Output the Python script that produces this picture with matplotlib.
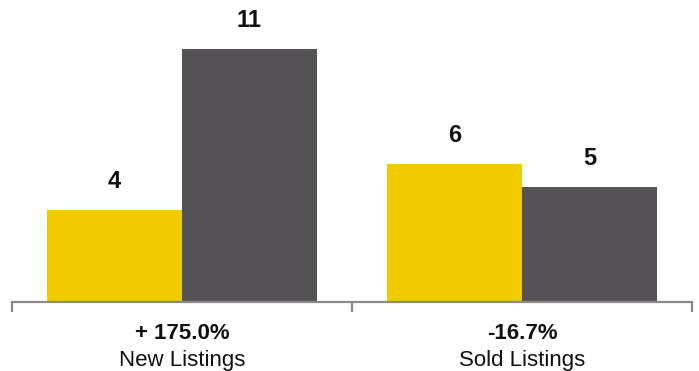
import numpy as np
import matplotlib.pyplot as plt
from matplotlib.transforms import blended_transform_factory

plt.rcParams['font.family'] = ['Liberation Sans', 'DejaVu Sans']

categories = ['New Listings', 'Sold Listings']
changes = ['+ 175.0%', '-16.7%']
prior_year = [4, 6]
current_year = [11, 5]

yellow = '#f0cb00'
dark = '#545255'
axis_gray = '#8a8a8a'

fig = plt.figure(figsize=(6.99, 3.71), dpi=100)
ax = fig.add_axes([12 / 699, 69 / 371, 680 / 699, 292 / 371])

x = np.arange(len(categories))
w = 0.397
b1 = ax.bar(x - w / 2, prior_year, w, color=yellow)
b2 = ax.bar(x + w / 2, current_year, w, color=dark)

for bars in (b1, b2):
    for bar in bars:
        ax.annotate(str(int(bar.get_height())),
                    (bar.get_x() + bar.get_width() / 2, bar.get_height()),
                    xytext=(0, 12), textcoords='offset points',
                    ha='center', va='bottom', fontsize=17, fontweight='bold', color='#111111')

ax.set_xlim(-0.5, 1.5)
ax.set_ylim(0, 292 / 23)

for s in ['top', 'right', 'left']:
    ax.spines[s].set_visible(False)
ax.spines['bottom'].set_color(axis_gray)
ax.spines['bottom'].set_linewidth(1.6)
ax.set_yticks([])
ax.set_xticks([-0.5, 0.5, 1.5])
ax.set_xticklabels([])
ax.tick_params(axis='x', direction='out', length=7, width=1.6, color=axis_gray)

trans = blended_transform_factory(ax.transData, fig.transFigure)
for xi, cat, ch in zip(x, categories, changes):
    ax.text(xi, 1 - 339 / 371, ch, transform=trans, ha='center', va='baseline',
            fontsize=16, fontweight='bold', color='#111111')
    ax.text(xi, 1 - 366 / 371, cat, transform=trans, ha='center', va='baseline',
            fontsize=16, color='#111111')

fig.savefig('out.png', dpi=100)
